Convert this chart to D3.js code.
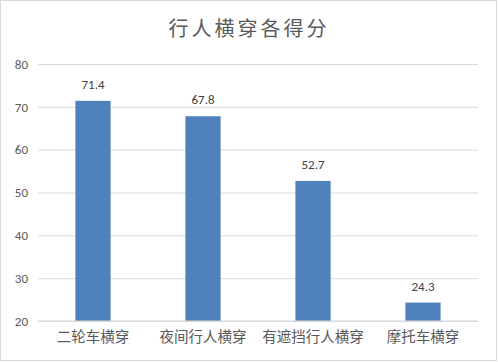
<!DOCTYPE html>
<html>
<head>
<meta charset="utf-8">
<script src="https://cdn.jsdelivr.net/npm/d3@7"></script>
<style>
  body { margin: 0; background: #fff; }
  text { font-family: "Microsoft YaHei", "Noto Sans CJK SC", sans-serif; }
</style>
</head>
<body>
<svg id="chart" width="498" height="362"></svg>
<script>
var categories = ["二轮车横穿", "夜间行人横穿", "有遮挡行人横穿", "摩托车横穿"];
var scores = [71.4, 67.8, 52.7, 24.3];
var yTicks = [20, 30, 40, 50, 60, 70, 80];
var title = "行人横穿各得分";

var chartWidth = 498, chartHeight = 362;
var plotLeft = 38, plotRight = 478, plotTop = 64, plotBottom = 321;

var svg = d3.select("#chart");

// Background / border
svg.append("rect")
	.attr("x", 0.5).attr("y", 0.5)
	.attr("width", chartWidth - 2).attr("height", chartHeight - 2)
	.attr("fill", "#fff")
	.attr("stroke", "#d9d9d9");

var x = d3.scaleBand().domain(categories).range([plotLeft, plotRight]).paddingInner(0.68).paddingOuter(0.34);
var y = d3.scaleLinear().domain([20, 80]).range([plotBottom, plotTop]);

// Gridlines
var yAxis = d3.axisLeft(y).tickValues(yTicks).tickSize(-(plotRight - plotLeft)).tickPadding(10);
var gy = svg.append("g").attr("transform", "translate(" + plotLeft + ",0)").call(yAxis);
gy.select(".domain").remove();
gy.selectAll(".tick line").attr("stroke", "#d9d9d9");
gy.selectAll(".tick text").attr("fill", "#595959").style("font-size", "13px")
	.style("font-family", "Carlito, Calibri, 'Liberation Sans', sans-serif");

// Bars
svg.append("g").selectAll("rect").data(scores).join("rect")
	.attr("x", function (d, i) { return x(categories[i]); })
	.attr("y", function (d) { return y(d); })
	.attr("width", x.bandwidth())
	.attr("height", function (d) { return plotBottom - y(d); })
	.attr("fill", "#4f81bd");

// Data labels
svg.append("g").selectAll("text").data(scores).join("text")
	.attr("x", function (d, i) { return x(categories[i]) + x.bandwidth() / 2; })
	.attr("y", function (d) { return y(d) - 12; })
	.attr("text-anchor", "middle")
	.attr("fill", "#404040")
	.style("font-size", "13px")
	.style("font-family", "Carlito, Calibri, 'Liberation Sans', sans-serif")
	.text(function (d) { return d.toFixed(1); });

// X axis
var xAxis = d3.axisBottom(x).tickSize(0).tickPadding(11);
var gx = svg.append("g").attr("transform", "translate(0," + plotBottom + ")").call(xAxis);
gx.select(".domain").attr("stroke", "#d9d9d9").attr("d", "M" + plotLeft + ",0H" + plotRight);
gx.selectAll(".tick text").attr("fill", "#595959").style("font-size", "14.5px")
	.style("font-family", "'Noto Sans CJK SC', sans-serif");

// Title
svg.append("text")
	.attr("x", chartWidth / 2)
	.attr("y", 36)
	.attr("text-anchor", "middle")
	.attr("fill", "#595959")
	.style("font-size", "20px")
	.style("letter-spacing", "3px")
	.text(title);
</script>
</body>
</html>
